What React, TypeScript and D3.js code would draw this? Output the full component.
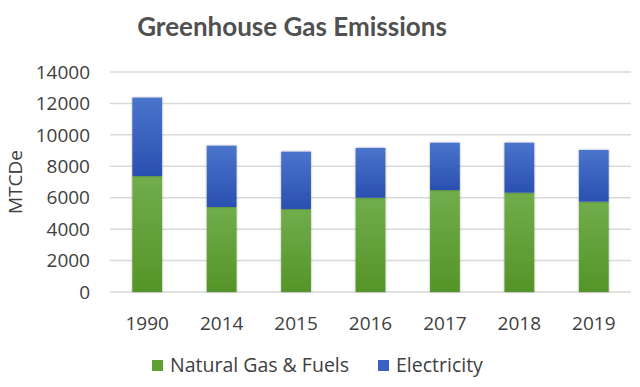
import * as d3 from 'd3';

// chart data
const years = ['1990', '2014', '2015', '2016', '2017', '2018', '2019'];
const naturalGas = [7380, 5410, 5280, 6000, 6490, 6320, 5750];
const electricity = [4990, 3900, 3650, 3170, 3010, 3180, 3290];
const yTicks = [0, 2000, 4000, 6000, 8000, 10000, 12000, 14000];
const seriesNames = ['Natural Gas & Fuels', 'Electricity'];

export default function App() {
  const width = 640;
  const height = 387;
  const margin = { top: 72, right: 9, bottom: 95, left: 110 };
  const innerWidth = width - margin.left - margin.right;
  const innerHeight = height - margin.top - margin.bottom;
  const font = '"Open Sans", Lato, sans-serif';
  const textColor = '#404040';

  const x = d3.scaleBand().domain(years).range([0, innerWidth]).paddingInner(0.6).paddingOuter(0.3);
  const y = d3.scaleLinear().domain([0, 14000]).range([innerHeight, 0]);

  const rows = years.map((yr, i) => ({ year: yr, gas: naturalGas[i], elec: electricity[i] }));
  const stacked = d3.stack<any>().keys(['gas', 'elec'])(rows);
  const fills = ['url(#gGreen)', 'url(#gBlue)'];
  const swatch = ['#5fa033', '#3a62c0'];

  return (
    <svg width={width} height={height} style={{ position: 'absolute', left: 0, top: 0, background: '#fff' }}>
      <defs>
        <linearGradient id="gGreen" x1="0" y1="0" x2="0" y2="1">
          <stop offset="0" stopColor="#71ad4b" />
          <stop offset="1" stopColor="#559428" />
        </linearGradient>
        <linearGradient id="gBlue" x1="0" y1="0" x2="0" y2="1">
          <stop offset="0" stopColor="#4a74cc" />
          <stop offset="1" stopColor="#2a50b0" />
        </linearGradient>
        <filter id="shadow" x="-20%" y="-10%" width="140%" height="120%">
          <feDropShadow dx="0" dy="0" stdDeviation="1" floodColor="#000" floodOpacity="0.35" />
        </filter>
      </defs>

      <text x={292} y={36} textAnchor="middle" fontFamily='Lato, "Open Sans", sans-serif' fontWeight="bold" fontSize={26} fill="#505050">
        Greenhouse Gas Emissions
      </text>

      <g transform={`translate(${margin.left},${margin.top})`}>
        {/* gridlines + y labels */}
        {yTicks.map(t => (
          <g key={t}>
            <line x1={0} x2={innerWidth} y1={y(t)} y2={y(t)} stroke="#d9d9d9" strokeWidth={1.5} />
            <text x={-20} y={y(t)} dy="0.35em" textAnchor="end" fontFamily={font} fontSize={19} fill={textColor}>
              {t}
            </text>
          </g>
        ))}

        {/* bars */}
        {stacked.map((s, si) => (
          <g key={s.key}>
            {s.map((d, i) => (
              <rect
                key={i}
                x={x(years[i])}
                y={y(d[1])}
                width={x.bandwidth()}
                height={y(d[0]) - y(d[1])}
                fill={fills[si]}
                filter="url(#shadow)"
              />
            ))}
          </g>
        ))}

        {/* x labels */}
        {years.map(yr => (
          <text key={yr} x={(x(yr) || 0) + x.bandwidth() / 2} y={innerHeight + 38} textAnchor="middle" fontFamily={font} fontSize={19} fill={textColor}>
            {yr}
          </text>
        ))}
      </g>

      <text transform={`translate(22, ${margin.top + innerHeight / 2}) rotate(-90)`} textAnchor="middle" fontFamily={font} fontSize={19} fill={textColor}>
        MTCDe
      </text>

      {/* legend */}
      <g fontFamily={font} fontSize={19.5} fill={textColor}>
        <rect x={152} y={360} width={11} height={11} fill={swatch[0]} />
        <text x={170} y={372}>{seriesNames[0]}</text>
        <rect x={378} y={360} width={11} height={11} fill={swatch[1]} />
        <text x={396} y={372}>{seriesNames[1]}</text>
      </g>
    </svg>
  );
}
